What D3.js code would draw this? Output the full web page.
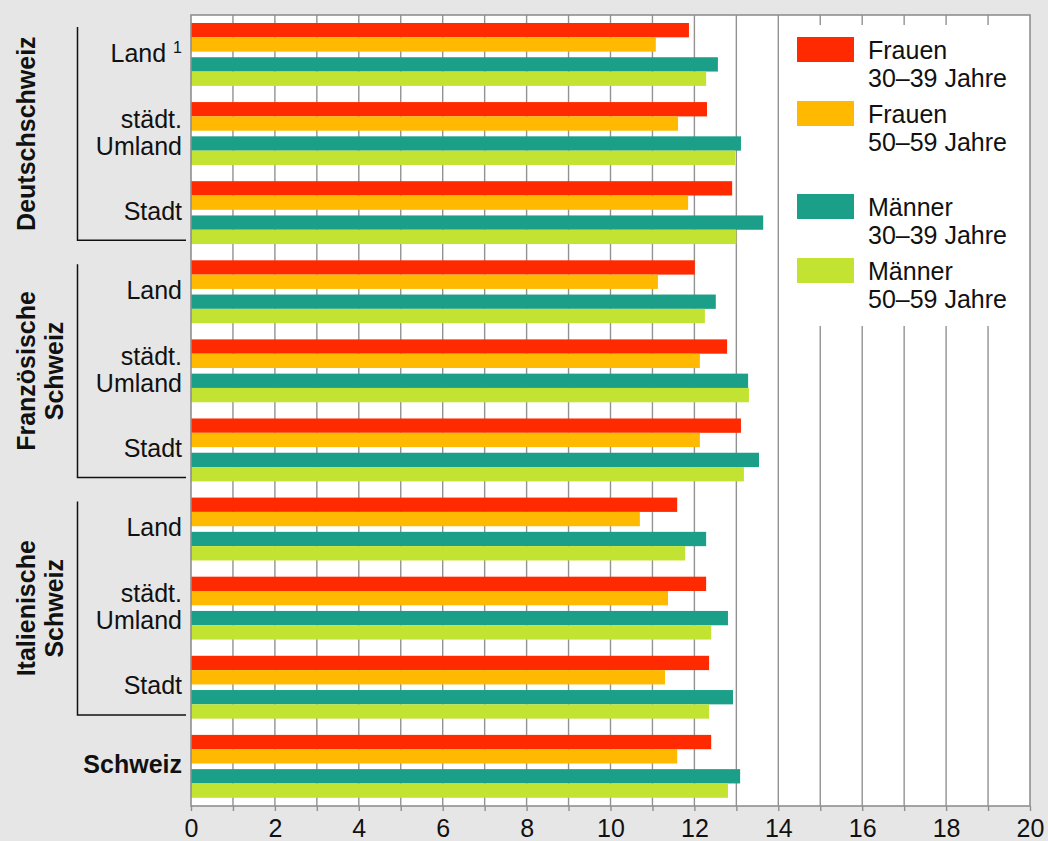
<!DOCTYPE html>
<html>
<head>
<meta charset="utf-8">
<script src="https://cdn.jsdelivr.net/npm/d3@7"></script>
<style>
  html, body { margin: 0; padding: 0; background: #e6e6e6; }
  svg { display: block; font-family: "Liberation Sans", Arial, Helvetica, sans-serif; }
</style>
</head>
<body>
<svg id="chart" width="1048" height="841"></svg>
<script>
// Regions, area types and the Swiss total, top to bottom
const regions = ["Deutschschweiz", "Französische Schweiz", "Italienische Schweiz"];
const regionLines = [["Deutschschweiz"], ["Französische", "Schweiz"], ["Italienische", "Schweiz"]];
const areaTypes = [["Land"], ["städt.", "Umland"], ["Stadt"]];
const totalLabel = "Schweiz";
const categories = [
  "DS Land", "DS Umland", "DS Stadt",
  "FS Land", "FS Umland", "FS Stadt",
  "IS Land", "IS Umland", "IS Stadt",
  "CH"
];

// Series values per category (same order as categories)
const frauen3039  = [11.87, 12.30, 12.90, 12.01, 12.78, 13.11, 11.59, 12.28, 12.35, 12.40];
const frauen5059  = [11.08, 11.61, 11.85, 11.13, 12.13, 12.13, 10.70, 11.37, 11.30, 11.59];
const maenner3039 = [12.56, 13.11, 13.64, 12.51, 13.28, 13.54, 12.28, 12.80, 12.92, 13.09];
const maenner5059 = [12.28, 12.97, 13.00, 12.25, 13.30, 13.18, 11.78, 12.40, 12.35, 12.80];

const seriesNames = ["Frauen 30–39 Jahre", "Frauen 50–59 Jahre", "Männer 30–39 Jahre", "Männer 50–59 Jahre"];
const seriesValues = [frauen3039, frauen5059, maenner3039, maenner5059];
const seriesColors = ["#ff2a00", "#ffb900", "#1b9f88", "#c2e331"];

const xTickLabels = [0, 2, 4, 6, 8, 10, 12, 14, 16, 18, 20];
const xGrid = d3.range(0, 21);

const svg = d3.select("#chart");
const W = 1048, H = 841;
const plot = { left: 191, right: 1030, top: 15, bottom: 806 };

svg.append("rect").attr("width", W).attr("height", H).attr("fill", "#e6e6e6");

const x = d3.scaleLinear().domain([0, 20]).range([plot.left, plot.right]);
const y = d3.scaleBand().domain(categories).range([plot.top, plot.bottom]);
const bw = y.bandwidth();

// bar layout inside a category band: two pairs, small gap between them
const barH = bw * 0.181;
const barOffset = d3.scaleOrdinal().domain(seriesNames)
  .range([bw * 0.101, bw * 0.101 + barH, bw * 0.534, bw * 0.534 + barH]);

// white plotting area
svg.append("rect")
  .attr("x", plot.left).attr("y", plot.top)
  .attr("width", plot.right - plot.left).attr("height", plot.bottom - plot.top)
  .attr("fill", "#fff");

// vertical grid lines
svg.append("g").selectAll("line").data(xGrid.slice(1, -1)).join("line")
  .attr("x1", d => x(d)).attr("x2", d => x(d))
  .attr("y1", plot.top).attr("y2", plot.bottom)
  .attr("stroke", "#929292").attr("stroke-width", 1.4);

// bars
const barData = [];
categories.forEach((c, i) => {
  seriesNames.forEach((s, k) => barData.push({ c, s, v: seriesValues[k][i], color: seriesColors[k] }));
});
svg.append("g").selectAll("rect").data(barData).join("rect")
  .attr("x", x(0))
  .attr("y", d => y(d.c) + barOffset(d.s))
  .attr("width", d => x(d.v) - x(0))
  .attr("height", barH)
  .attr("fill", d => d.color);

// legend panel
const legX0 = x(14) + 1;
svg.append("rect")
  .attr("x", legX0).attr("y", 25)
  .attr("width", plot.right - legX0 - 1).attr("height", 301)
  .attr("fill", "#fff");

const legendTops = [37, 101, 194, 258];
const legend = svg.append("g").selectAll("g").data(seriesNames).join("g")
  .attr("transform", (d, i) => `translate(797,${legendTops[i]})`);
legend.append("rect").attr("width", 57).attr("height", 25).attr("fill", (d, i) => seriesColors[i]);
legend.append("text")
  .attr("x", 71).attr("y", 22)
  .attr("font-size", 25).attr("fill", "#111")
  .selectAll("tspan").data(d => [d.split(" ")[0], d.split(" ").slice(1).join(" ")]).join("tspan")
  .attr("x", 71).attr("dy", (d, j) => j === 0 ? 0 : 27.5)
  .text(d => d);

// plot frame
svg.append("rect")
  .attr("x", plot.left).attr("y", plot.top)
  .attr("width", plot.right - plot.left).attr("height", plot.bottom - plot.top)
  .attr("fill", "none").attr("stroke", "#8f8f8f").attr("stroke-width", 1.6);

// bottom axis
const xAxis = d3.axisBottom(x)
  .tickValues(xGrid)
  .tickSize(5)
  .tickPadding(8)
  .tickFormat(d => xTickLabels.includes(d) ? d : "");
const gx = svg.append("g").attr("transform", `translate(0,${plot.bottom})`).call(xAxis);
gx.select(".domain").remove();
gx.selectAll(".tick line").attr("stroke", "#8f8f8f").attr("stroke-width", 1.4);
gx.selectAll(".tick text")
  .attr("font-size", 25).attr("fill", "#111")
  .attr("font-family", "\"Liberation Sans\", Arial, sans-serif");

// category labels
const labelX = 182;
const catLabels = categories.map((c, i) => i < 9 ? areaTypes[i % 3] : [totalLabel]);
const lab = svg.append("g").selectAll("text").data(categories).join("text")
  .attr("text-anchor", "end")
  .attr("font-size", 25)
  .attr("fill", "#111")
  .attr("font-weight", (d, i) => i === 9 ? "bold" : "normal")
  .attr("x", labelX)
  .attr("y", d => y(d) + bw / 2);
lab.each(function (d, i) {
  const lines = catLabels[i];
  const t = d3.select(this);
  if (lines.length === 1) {
    t.append("tspan").attr("x", labelX).attr("dy", 7).text(lines[0]);
    if (i === 0) {
      t.select("tspan").text(lines[0] + " ");
      t.append("tspan").attr("font-size", 16).attr("dy", -9).text("1");
    }
  } else {
    t.append("tspan").attr("x", labelX).attr("dy", -6).text(lines[0]);
    t.append("tspan").attr("x", labelX).attr("dy", 27).text(lines[1]);
  }
});

// region brackets and rotated region names
const brX = 77.5, brEnd = 186, inset = 12;
regions.forEach((r, g) => {
  const top = y(categories[g * 3]);
  const bottom = y(categories[g * 3 + 2]) + bw;
  const y0 = top + inset, y1 = bottom - inset;
  svg.append("path")
    .attr("d", `M${brX},${y0}V${y1}H${brEnd}`)
    .attr("fill", "none").attr("stroke", "#111").attr("stroke-width", 1.5);
  const cy = (y0 + y1) / 2;
  const t = svg.append("text")
    .attr("transform", `translate(35,${cy}) rotate(-90)`)
    .attr("text-anchor", "middle")
    .attr("font-size", 25).attr("font-weight", "bold").attr("fill", "#111");
  regionLines[g].forEach((line, j) => {
    t.append("tspan").attr("x", 0).attr("y", j * 28).text(line);
  });
});
</script>
</body>
</html>
